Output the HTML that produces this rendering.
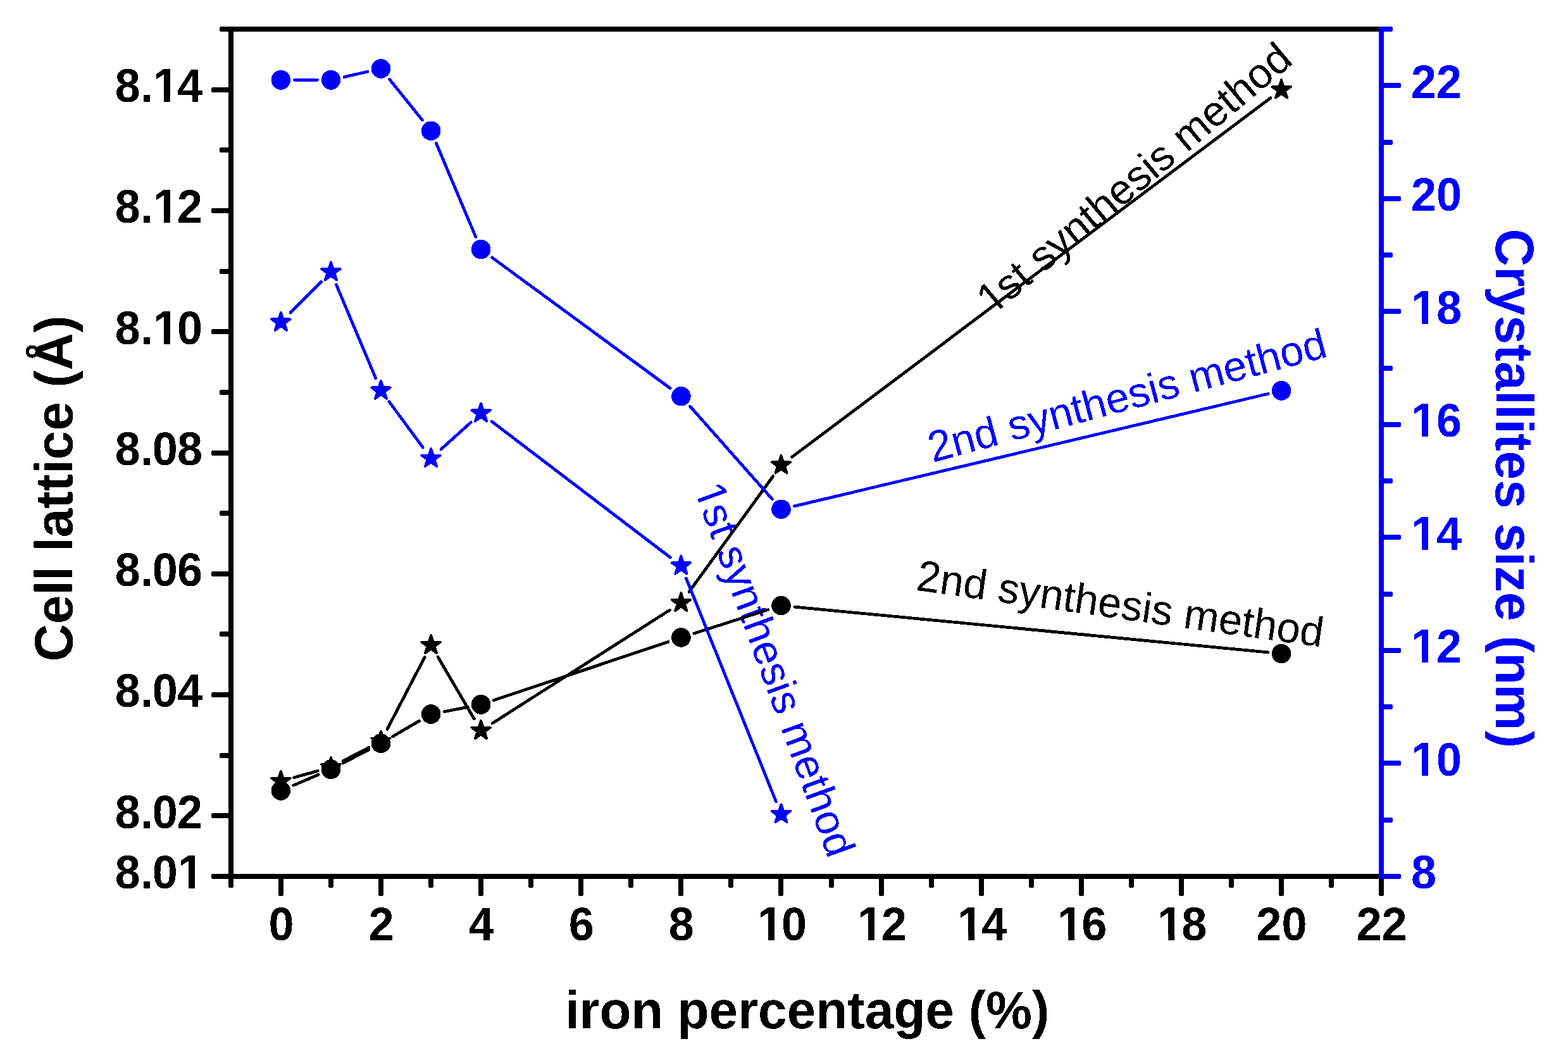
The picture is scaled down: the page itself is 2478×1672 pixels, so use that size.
<!DOCTYPE html>
<html lang="en"><head><meta charset="utf-8"><title>Cell lattice and crystallites size vs iron percentage</title>
<style>html,body{margin:0;padding:0;background:#fff;overflow:hidden;}svg{display:block;}text{font-family:"Liberation Sans",Arial,Helvetica,sans-serif;font-kerning:none;}.b text{font-weight:bold;}</style>
</head><body>
<svg width="2478" height="1672" viewBox="0 0 2478 1672">
<rect x="0" y="0" width="2478" height="1672" fill="#ffffff"/>
<defs><filter id="bin" x="0" y="0" width="2478" height="1672" filterUnits="userSpaceOnUse" color-interpolation-filters="sRGB"><feComponentTransfer><feFuncA type="discrete" tableValues="0 1"/></feComponentTransfer></filter></defs>
<g filter="url(#bin)">
<g id="annotations-under">
<g transform="translate(1095.4 770.3) rotate(70)">
<text font-size="66.65" fill="#0000ff"><tspan dx="3" font-size="69.32" textLength="37.07" lengthAdjust="spacingAndGlyphs">1</tspan><tspan dx="-3">st synthesis method</tspan></text>
<rect x="6.88" y="-5.98" width="12.88" height="6.98" fill="#fff"/>
<rect x="25.65" y="-5.98" width="12.36" height="6.98" fill="#fff"/>
</g>
<g transform="translate(1566.3 501.3) rotate(-40)">
<text font-size="66.65" fill="#000000"><tspan dx="3" font-size="69.32" textLength="37.07" lengthAdjust="spacingAndGlyphs">1</tspan><tspan dx="-3">st synthesis method</tspan></text>
<rect x="6.88" y="-5.98" width="12.88" height="6.98" fill="#fff"/>
<rect x="25.65" y="-5.98" width="12.36" height="6.98" fill="#fff"/>
</g>
</g>
<g id="black-series" fill="#000000" stroke="#000000">
<g fill="none" stroke-width="4.8" stroke-linecap="round">
<line x1="464.62" y1="1228.76" x2="502.24" y2="1218.34"/>
<line x1="542.03" y1="1202.66" x2="582.95" y2="1181.34"/>
<line x1="611.95" y1="1152.33" x2="671.15" y2="1038.57"/>
<line x1="691.94" y1="1038.05" x2="749.28" y2="1135.95"/>
<line x1="778.26" y1="1142.93" x2="1058.26" y2="964.17"/>
<line x1="1089.02" y1="935.21" x2="1221.86" y2="752.49"/>
<line x1="1251.7" y1="722.2" x2="2007.9" y2="154.8"/>
<line x1="463.69" y1="1241.09" x2="503.17" y2="1224.31"/>
<line x1="542.03" y1="1205.96" x2="582.95" y2="1184.64"/>
<line x1="620.59" y1="1163.87" x2="662.51" y2="1139.43"/>
<line x1="702.19" y1="1124.54" x2="739.03" y2="1117.46"/>
<line x1="780.53" y1="1106.57" x2="1055.99" y2="1014.33"/>
<line x1="1096.86" y1="1000.96" x2="1214.02" y2="963.54"/>
<line x1="1255.9" y1="959.06" x2="2003.7" y2="1030.94"/>
</g>
<g stroke-width="3.8" stroke-linejoin="round">
<polygon points="443.9,1218.9 447.4,1229.68 458.74,1229.68 449.57,1236.34 453.07,1247.12 443.9,1240.46 434.73,1247.12 438.23,1236.34 429.06,1229.68 440.4,1229.68"/>
<polygon points="522.96,1197 526.46,1207.78 537.8,1207.78 528.63,1214.44 532.13,1225.22 522.96,1218.56 513.79,1225.22 517.29,1214.44 508.12,1207.78 519.46,1207.78"/>
<polygon points="602.02,1155.8 605.52,1166.58 616.86,1166.58 607.69,1173.24 611.19,1184.02 602.02,1177.36 592.85,1184.02 596.35,1173.24 587.18,1166.58 598.52,1166.58"/>
<polygon points="681.08,1003.9 684.58,1014.68 695.92,1014.68 686.75,1021.34 690.25,1032.12 681.08,1025.46 671.91,1032.12 675.41,1021.34 666.24,1014.68 677.58,1014.68"/>
<polygon points="760.14,1138.9 763.64,1149.68 774.98,1149.68 765.81,1156.34 769.31,1167.12 760.14,1160.46 750.97,1167.12 754.47,1156.34 745.3,1149.68 756.64,1149.68"/>
<polygon points="1076.38,937 1079.88,947.78 1091.22,947.78 1082.05,954.44 1085.55,965.22 1076.38,958.56 1067.21,965.22 1070.71,954.44 1061.54,947.78 1072.88,947.78"/>
<polygon points="1234.5,719.5 1238,730.28 1249.34,730.28 1240.17,736.94 1243.67,747.72 1234.5,741.06 1225.33,747.72 1228.83,736.94 1219.66,730.28 1231,730.28"/>
<polygon points="2025.1,126.3 2028.6,137.08 2039.94,137.08 2030.77,143.74 2034.27,154.52 2025.1,147.86 2015.93,154.52 2019.43,143.74 2010.26,137.08 2021.6,137.08"/>
</g>
<g stroke="none">
<circle cx="443.9" cy="1249.5" r="15.3"/>
<circle cx="522.96" cy="1215.9" r="15.3"/>
<circle cx="602.02" cy="1174.7" r="15.3"/>
<circle cx="681.08" cy="1128.6" r="15.3"/>
<circle cx="760.14" cy="1113.4" r="15.3"/>
<circle cx="1076.38" cy="1007.5" r="15.3"/>
<circle cx="1234.5" cy="957" r="15.3"/>
<circle cx="2025.1" cy="1033" r="15.3"/>
</g>
</g>
<g id="blue-series" fill="#0000ff" stroke="#0000ff">
<g fill="none" stroke-width="4.8" stroke-linecap="round">
<line x1="459.07" y1="494.05" x2="507.79" y2="445.09"/>
<line x1="531.31" y1="449.66" x2="593.67" y2="597.5"/>
<line x1="614.79" y1="634.61" x2="668.31" y2="707.13"/>
<line x1="697.03" y1="710.02" x2="744.19" y2="667.42"/>
<line x1="777.24" y1="666.05" x2="1059.28" y2="881"/>
<line x1="1084.41" y1="913.98" x2="1226.47" y2="1266.86"/>
<line x1="465.4" y1="126.34" x2="501.46" y2="126.34"/>
<line x1="543.93" y1="121.6" x2="581.05" y2="113.22"/>
<line x1="615.5" y1="125.23" x2="667.6" y2="189.93"/>
<line x1="689.43" y1="226.49" x2="751.79" y2="374.33"/>
<line x1="777.47" y1="406.86" x2="1059.05" y2="613.51"/>
<line x1="1090.63" y1="642.33" x2="1220.25" y2="788.67"/>
<line x1="1255.42" y1="799.81" x2="2004.18" y2="622.27"/>
</g>
<g stroke-width="3.8" stroke-linejoin="round">
<polygon points="443.9,493.69 447.4,504.47 458.74,504.47 449.57,511.14 453.07,521.91 443.9,515.25 434.73,521.91 438.23,511.14 429.06,504.47 440.4,504.47"/>
<polygon points="522.96,414.25 526.46,425.03 537.8,425.03 528.63,431.69 532.13,442.47 522.96,435.81 513.79,442.47 517.29,431.69 508.12,425.03 519.46,425.03"/>
<polygon points="602.02,601.71 605.52,612.49 616.86,612.49 607.69,619.15 611.19,629.93 602.02,623.27 592.85,629.93 596.35,619.15 587.18,612.49 598.52,612.49"/>
<polygon points="681.08,708.83 684.58,719.61 695.92,719.61 686.75,726.27 690.25,737.05 681.08,730.39 671.91,737.05 675.41,726.27 666.24,719.61 677.58,719.61"/>
<polygon points="760.14,637.41 763.64,648.19 774.98,648.19 765.81,654.85 769.31,665.63 760.14,658.97 750.97,665.63 754.47,654.85 745.3,648.19 756.64,648.19"/>
<polygon points="1076.38,878.43 1079.88,889.21 1091.22,889.21 1082.05,895.87 1085.55,906.65 1076.38,899.99 1067.21,906.65 1070.71,895.87 1061.54,889.21 1072.88,889.21"/>
<polygon points="1234.5,1271.21 1238,1281.99 1249.34,1281.99 1240.17,1288.65 1243.67,1299.43 1234.5,1292.77 1225.33,1299.43 1228.83,1288.65 1219.66,1281.99 1231,1281.99"/>
</g>
<g stroke="none">
<circle cx="443.9" cy="126.34" r="15.3"/>
<circle cx="522.96" cy="126.34" r="15.3"/>
<circle cx="602.02" cy="108.49" r="15.3"/>
<circle cx="681.08" cy="206.68" r="15.3"/>
<circle cx="760.14" cy="394.14" r="15.3"/>
<circle cx="1076.38" cy="626.23" r="15.3"/>
<circle cx="1234.5" cy="804.77" r="15.3"/>
<circle cx="2025.1" cy="617.31" r="15.3"/>
</g>
</g>
<g id="annotations">
<g transform="translate(1474 730.9) rotate(-15)">
<text font-size="66.65" fill="#0000ff"><tspan font-size="69.32" textLength="37.07" lengthAdjust="spacingAndGlyphs">2</tspan><tspan>nd synthesis method</tspan></text>
</g>
<g transform="translate(1446.6 932.4) rotate(8)">
<text font-size="66.65" fill="#000000"><tspan font-size="69.32" textLength="37.07" lengthAdjust="spacingAndGlyphs">2</tspan><tspan>nd synthesis method</tspan></text>
</g>
</g>
<g id="axes-black" fill="#000">
<rect x="361" y="42" width="1826" height="8"/>
<rect x="361" y="1381" width="1826" height="8"/>
<rect x="361" y="42" width="8" height="1347"/>
<rect x="334" y="1381" width="31" height="8" rx="3"/>
<rect x="334" y="1285" width="31" height="8" rx="3"/>
<rect x="347" y="1190" width="18" height="8" rx="3"/>
<rect x="334" y="1094" width="31" height="8" rx="3"/>
<rect x="347" y="998" width="18" height="8" rx="3"/>
<rect x="334" y="903" width="31" height="8" rx="3"/>
<rect x="347" y="807" width="18" height="8" rx="3"/>
<rect x="334" y="712" width="31" height="8" rx="3"/>
<rect x="347" y="616" width="18" height="8" rx="3"/>
<rect x="334" y="520" width="31" height="8" rx="3"/>
<rect x="347" y="425" width="18" height="8" rx="3"/>
<rect x="334" y="329" width="31" height="8" rx="3"/>
<rect x="347" y="233" width="18" height="8" rx="3"/>
<rect x="334" y="138" width="31" height="8" rx="3"/>
<rect x="347" y="42" width="18" height="8" rx="3"/>
<rect x="361" y="1385" width="8" height="18" rx="3"/>
<rect x="440" y="1385" width="8" height="31" rx="3"/>
<rect x="519" y="1385" width="8" height="18" rx="3"/>
<rect x="598" y="1385" width="8" height="31" rx="3"/>
<rect x="677" y="1385" width="8" height="18" rx="3"/>
<rect x="756" y="1385" width="8" height="31" rx="3"/>
<rect x="835" y="1385" width="8" height="18" rx="3"/>
<rect x="914" y="1385" width="8" height="31" rx="3"/>
<rect x="993" y="1385" width="8" height="18" rx="3"/>
<rect x="1072" y="1385" width="8" height="31" rx="3"/>
<rect x="1151" y="1385" width="8" height="18" rx="3"/>
<rect x="1230" y="1385" width="8" height="31" rx="3"/>
<rect x="1310" y="1385" width="8" height="18" rx="3"/>
<rect x="1389" y="1385" width="8" height="31" rx="3"/>
<rect x="1468" y="1385" width="8" height="18" rx="3"/>
<rect x="1547" y="1385" width="8" height="31" rx="3"/>
<rect x="1626" y="1385" width="8" height="18" rx="3"/>
<rect x="1705" y="1385" width="8" height="31" rx="3"/>
<rect x="1784" y="1385" width="8" height="18" rx="3"/>
<rect x="1863" y="1385" width="8" height="31" rx="3"/>
<rect x="1942" y="1385" width="8" height="18" rx="3"/>
<rect x="2021" y="1385" width="8" height="31" rx="3"/>
<rect x="2100" y="1385" width="8" height="18" rx="3"/>
<rect x="2179" y="1385" width="8" height="31" rx="3"/>
</g>
<g id="axis-blue" fill="#0000ff">
<rect x="2179" y="42" width="8" height="1347"/>
<rect x="2183" y="1381" width="31" height="8" rx="3"/>
<rect x="2183" y="1292" width="18" height="8" rx="3"/>
<rect x="2183" y="1202" width="31" height="8" rx="3"/>
<rect x="2183" y="1113" width="18" height="8" rx="3"/>
<rect x="2183" y="1024" width="31" height="8" rx="3"/>
<rect x="2183" y="935" width="18" height="8" rx="3"/>
<rect x="2183" y="845" width="31" height="8" rx="3"/>
<rect x="2183" y="756" width="18" height="8" rx="3"/>
<rect x="2183" y="667" width="31" height="8" rx="3"/>
<rect x="2183" y="578" width="18" height="8" rx="3"/>
<rect x="2183" y="488" width="31" height="8" rx="3"/>
<rect x="2183" y="399" width="18" height="8" rx="3"/>
<rect x="2183" y="310" width="31" height="8" rx="3"/>
<rect x="2183" y="221" width="18" height="8" rx="3"/>
<rect x="2183" y="131" width="31" height="8" rx="3"/>
<rect x="2183" y="42" width="18" height="8" rx="3"/>
</g>
<g id="tick-labels" class="b" font-size="72">
<g transform="translate(179.87 1404.3) scale(1 1.035)">
<text fill="#000000"><tspan dx="1.9">8</tspan>.<tspan dx="-1">0</tspan><tspan dx="0.4" font-size="73.58" textLength="40.04" lengthAdjust="spacingAndGlyphs">1</tspan></text>
<rect x="104.72" y="-8.31" width="13.47" height="9.31" fill="#fff"/>
<rect x="128.07" y="-8.31" width="12.56" height="9.31" fill="#fff"/>
</g>
<g transform="translate(179.87 1308.66) scale(1 1.035)">
<text fill="#000000"><tspan dx="1.9">8</tspan>.<tspan dx="-1">0</tspan><tspan dx="-0.9">2</tspan></text>
</g>
<g transform="translate(179.87 1117.37) scale(1 1.035)">
<text fill="#000000"><tspan dx="1.9">8</tspan>.<tspan dx="-1">0</tspan><tspan dx="-0.9">4</tspan></text>
</g>
<g transform="translate(179.87 926.09) scale(1 1.035)">
<text fill="#000000"><tspan dx="1.9">8</tspan>.<tspan dx="-1">0</tspan><tspan dx="-0.9">6</tspan></text>
</g>
<g transform="translate(179.87 734.8) scale(1 1.035)">
<text fill="#000000"><tspan dx="1.9">8</tspan>.<tspan dx="-1">0</tspan><tspan dx="-0.9">8</tspan></text>
</g>
<g transform="translate(179.87 543.51) scale(1 1.035)">
<text fill="#000000"><tspan dx="1.9">8</tspan>.<tspan dx="0.3" font-size="73.58" textLength="40.04" lengthAdjust="spacingAndGlyphs">1</tspan><tspan dx="-2.2">0</tspan></text>
<rect x="65.58" y="-8.31" width="13.47" height="9.31" fill="#fff"/>
<rect x="88.93" y="-8.31" width="12.56" height="9.31" fill="#fff"/>
</g>
<g transform="translate(179.87 352.23) scale(1 1.035)">
<text fill="#000000"><tspan dx="1.9">8</tspan>.<tspan dx="0.3" font-size="73.58" textLength="40.04" lengthAdjust="spacingAndGlyphs">1</tspan><tspan dx="-2.2">2</tspan></text>
<rect x="65.58" y="-8.31" width="13.47" height="9.31" fill="#fff"/>
<rect x="88.93" y="-8.31" width="12.56" height="9.31" fill="#fff"/>
</g>
<g transform="translate(179.87 160.94) scale(1 1.035)">
<text fill="#000000"><tspan dx="1.9">8</tspan>.<tspan dx="0.3" font-size="73.58" textLength="40.04" lengthAdjust="spacingAndGlyphs">1</tspan><tspan dx="-2.2">4</tspan></text>
<rect x="65.58" y="-8.31" width="13.47" height="9.31" fill="#fff"/>
<rect x="88.93" y="-8.31" width="12.56" height="9.31" fill="#fff"/>
</g>
<g transform="translate(424.52 1486) scale(1 1.035)">
<text fill="#000000">0</text>
</g>
<g transform="translate(582.61 1486) scale(1 1.035)">
<text fill="#000000">2</text>
</g>
<g transform="translate(740.7 1486) scale(1 1.035)">
<text fill="#000000">4</text>
</g>
<g transform="translate(898.78 1486) scale(1 1.035)">
<text fill="#000000">6</text>
</g>
<g transform="translate(1056.87 1486) scale(1 1.035)">
<text fill="#000000">8</text>
</g>
<g transform="translate(1194.94 1486) scale(1 1.035)">
<text fill="#000000"><tspan dx="2.3" font-size="73.58" textLength="40.04" lengthAdjust="spacingAndGlyphs">1</tspan><tspan dx="-2.3">0</tspan></text>
<rect x="5.64" y="-8.31" width="13.47" height="9.31" fill="#fff"/>
<rect x="28.98" y="-8.31" width="12.56" height="9.31" fill="#fff"/>
</g>
<g transform="translate(1353.02 1486) scale(1 1.035)">
<text fill="#000000"><tspan dx="2.3" font-size="73.58" textLength="40.04" lengthAdjust="spacingAndGlyphs">1</tspan><tspan dx="-2.3">2</tspan></text>
<rect x="5.64" y="-8.31" width="13.47" height="9.31" fill="#fff"/>
<rect x="28.98" y="-8.31" width="12.56" height="9.31" fill="#fff"/>
</g>
<g transform="translate(1511.11 1486) scale(1 1.035)">
<text fill="#000000"><tspan dx="2.3" font-size="73.58" textLength="40.04" lengthAdjust="spacingAndGlyphs">1</tspan><tspan dx="-2.3">4</tspan></text>
<rect x="5.64" y="-8.31" width="13.47" height="9.31" fill="#fff"/>
<rect x="28.98" y="-8.31" width="12.56" height="9.31" fill="#fff"/>
</g>
<g transform="translate(1669.2 1486) scale(1 1.035)">
<text fill="#000000"><tspan dx="2.3" font-size="73.58" textLength="40.04" lengthAdjust="spacingAndGlyphs">1</tspan><tspan dx="-2.3">6</tspan></text>
<rect x="5.64" y="-8.31" width="13.47" height="9.31" fill="#fff"/>
<rect x="28.98" y="-8.31" width="12.56" height="9.31" fill="#fff"/>
</g>
<g transform="translate(1827.28 1486) scale(1 1.035)">
<text fill="#000000"><tspan dx="2.3" font-size="73.58" textLength="40.04" lengthAdjust="spacingAndGlyphs">1</tspan><tspan dx="-2.3">8</tspan></text>
<rect x="5.64" y="-8.31" width="13.47" height="9.31" fill="#fff"/>
<rect x="28.98" y="-8.31" width="12.56" height="9.31" fill="#fff"/>
</g>
<g transform="translate(1985.37 1486) scale(1 1.035)">
<text fill="#000000">20</text>
</g>
<g transform="translate(2143.46 1486) scale(1 1.035)">
<text fill="#000000">22</text>
</g>
<g transform="translate(2230 1404.5) scale(1 1.035)">
<text fill="#0000ff">8</text>
</g>
<g transform="translate(2230 1225.97) scale(1 1.035)">
<text fill="#0000ff"><tspan dx="0.3" font-size="73.58" textLength="40.04" lengthAdjust="spacingAndGlyphs">1</tspan><tspan dx="-0.3">0</tspan></text>
<rect x="3.64" y="-8.31" width="13.47" height="9.31" fill="#fff"/>
<rect x="26.98" y="-8.31" width="12.56" height="9.31" fill="#fff"/>
</g>
<g transform="translate(2230 1047.43) scale(1 1.035)">
<text fill="#0000ff"><tspan dx="0.3" font-size="73.58" textLength="40.04" lengthAdjust="spacingAndGlyphs">1</tspan><tspan dx="-0.3">2</tspan></text>
<rect x="3.64" y="-8.31" width="13.47" height="9.31" fill="#fff"/>
<rect x="26.98" y="-8.31" width="12.56" height="9.31" fill="#fff"/>
</g>
<g transform="translate(2230 868.9) scale(1 1.035)">
<text fill="#0000ff"><tspan dx="0.3" font-size="73.58" textLength="40.04" lengthAdjust="spacingAndGlyphs">1</tspan><tspan dx="-0.3">4</tspan></text>
<rect x="3.64" y="-8.31" width="13.47" height="9.31" fill="#fff"/>
<rect x="26.98" y="-8.31" width="12.56" height="9.31" fill="#fff"/>
</g>
<g transform="translate(2230 690.37) scale(1 1.035)">
<text fill="#0000ff"><tspan dx="0.3" font-size="73.58" textLength="40.04" lengthAdjust="spacingAndGlyphs">1</tspan><tspan dx="-0.3">6</tspan></text>
<rect x="3.64" y="-8.31" width="13.47" height="9.31" fill="#fff"/>
<rect x="26.98" y="-8.31" width="12.56" height="9.31" fill="#fff"/>
</g>
<g transform="translate(2230 511.83) scale(1 1.035)">
<text fill="#0000ff"><tspan dx="0.3" font-size="73.58" textLength="40.04" lengthAdjust="spacingAndGlyphs">1</tspan><tspan dx="-0.3">8</tspan></text>
<rect x="3.64" y="-8.31" width="13.47" height="9.31" fill="#fff"/>
<rect x="26.98" y="-8.31" width="12.56" height="9.31" fill="#fff"/>
</g>
<g transform="translate(2230 333.3) scale(1 1.035)">
<text fill="#0000ff">20</text>
</g>
<g transform="translate(2230 154.77) scale(1 1.035)">
<text fill="#0000ff">22</text>
</g>
</g>
<g id="titles" class="b" font-size="82">
<text transform="translate(1275.6 1625.4) scale(1 1.017)" x="-382.73" fill="#000">iron percentage (%)</text>
<text transform="translate(114.8 771.8) rotate(-90) scale(1 1.017)" x="-273.39" fill="#000000"><tspan font-size="83.8" textLength="59.22" lengthAdjust="spacingAndGlyphs">C</tspan>ell lattice (Å)</text>
<text transform="translate(2363.9 771.9) rotate(90) scale(1 1.017)" x="-410.14" fill="#0000ff"><tspan font-size="83.8" textLength="59.22" lengthAdjust="spacingAndGlyphs">C</tspan>rystallites size (nm)</text>
</g>
</g>
</svg>
</body></html>
